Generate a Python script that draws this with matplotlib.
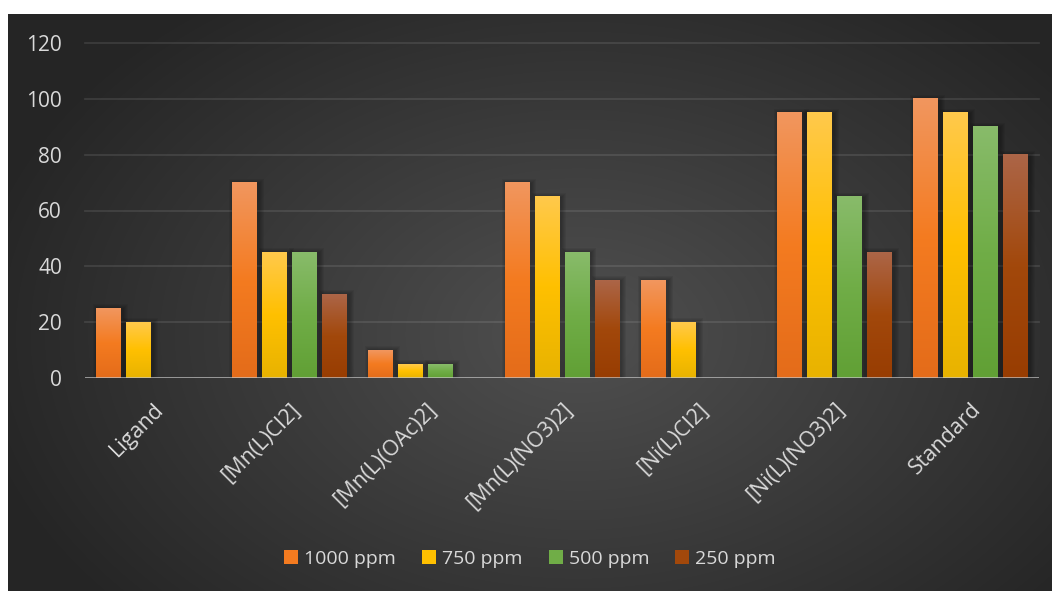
import numpy as np
import matplotlib.pyplot as plt
from matplotlib.colors import to_rgb
from matplotlib.patches import Rectangle, Patch

plt.rcParams['font.family'] = ['Open Sans', 'DejaVu Sans']

# data
categories = ['Ligand', '[Mn(L)Cl2]', '[Mn(L)(OAc)2]', '[Mn(L)(NO3)2]',
              '[Ni(L)Cl2]', '[Ni(L)(NO3)2]', 'Standard']
series_names = ['1000 ppm', '750 ppm', '500 ppm', '250 ppm']
ppm_1000 = [25, 70, 10, 70, 35, 95, 100]
ppm_750 = [20, 45, 5, 65, 20, 95, 95]
ppm_500 = [0, 45, 5, 45, 0, 65, 90]
ppm_250 = [0, 30, 0, 35, 0, 45, 80]
yticks = [0, 20, 40, 60, 80, 100, 120]

# gradient stops (top, middle, bottom) per series
grads = [('#F1965E', '#F47B20', '#E46C1A'),
         ('#FFC94B', '#FFC000', '#E8B300'),
         ('#88BB6A', '#70AD47', '#61A035'),
         ('#AC6547', '#A2480B', '#983D02')]
text_col = '#D9D9D9'

W, H = 1052, 591
fig = plt.figure(figsize=(W / 100, H / 100), dpi=100, facecolor='white')

# dark radial background of the chart area
bg = fig.add_axes([8 / W, 0, 1 - 8 / W, 1 - 14 / H])
bg.set_axis_off()
yy, xx = np.mgrid[0:577, 0:1044]
cx, cy = 570, 320
r = np.sqrt(((xx - cx) / 620.0) ** 2 + ((yy - cy) / 420.0) ** 2)
r = np.clip(r, 0, 1)
inner, outer = np.array(to_rgb('#505050')), np.array(to_rgb('#252525'))
img = inner[None, None, :] * (1 - r[..., None]) + outer[None, None, :] * r[..., None]
bg.imshow(img, aspect='auto', interpolation='bilinear')

ax = fig.add_axes([85 / W, 1 - 378 / H, (1039 - 85) / W, (378 - 43) / H])
ax.set_facecolor('none')


def grad_img(stops, n=64):
    t = np.linspace(0, 1, n)[:, None]
    c0, c1, c2 = [np.array(to_rgb(c)) for c in stops]
    up = c0 * (1 - 2 * t) + c1 * (2 * t)
    lo = c1 * (2 - 2 * t) + c2 * (2 * t - 1)
    g = np.where(t < 0.5, up, lo)
    return g[:, None, :]


x = np.arange(len(categories))
slot = 0.22
bw = 0.183
all_series = [ppm_1000, ppm_750, ppm_500, ppm_250]
px_x = 136.3  # pixels per category
px_y = (378 - 43) / 120.0
for i, vals in enumerate(all_series):
    offs = (i - 1.5) * slot
    g = grad_img(grads[i])
    for xi, v in zip(x, vals):
        if v <= 0:
            continue
        x0 = xi + offs - bw / 2
        # soft shadow
        for k in range(1, 6):
            dx = k / px_x
            dy = k / px_y
            ax.add_patch(Rectangle((x0 - dx + 2 / px_x, -dy),
                                   bw + 2 * dx, v + 2 * dy - 1 / px_y,
                                   facecolor='black', edgecolor='none',
                                   alpha=0.06, zorder=2))
        ax.imshow(g, extent=[x0, x0 + bw, 0, v], aspect='auto',
                  interpolation='bilinear', zorder=3)

ax.set_xlim(-0.5, len(categories) - 0.5)
ax.set_ylim(0, 120)
ax.set_aspect('auto')

for yv in yticks[1:]:
    ax.axhline(yv, color='white', alpha=0.1, lw=1.3, zorder=1, clip_on=False)
ax.axhline(0, color='#C8C8C8', alpha=0.75, lw=2, zorder=4)

for s in ax.spines.values():
    s.set_visible(False)
ax.set_yticks(yticks)
ax.set_yticklabels([str(v) for v in yticks])
ax.tick_params(axis='y', length=0, pad=16.5, labelsize=15, labelcolor=text_col)
ax.set_xticks(x)
ax.set_xticklabels(categories, rotation=45, ha='right', va='top',
                   rotation_mode='anchor')
ax.tick_params(axis='x', length=0, pad=15, labelsize=15.5, labelcolor=text_col)

handles = [Patch(facecolor=grads[i][1], edgecolor='none', label=series_names[i])
           for i in range(4)]
fig.legend(handles=handles, loc='center', bbox_to_anchor=(530 / W, 1 - 559 / H),
           ncol=4, frameon=False, fontsize=14, labelcolor=text_col,
           handlelength=0.72, handleheight=0.72, handletextpad=0.3,
           columnspacing=1.35)

fig.savefig('out.png', dpi=100, facecolor='white')
